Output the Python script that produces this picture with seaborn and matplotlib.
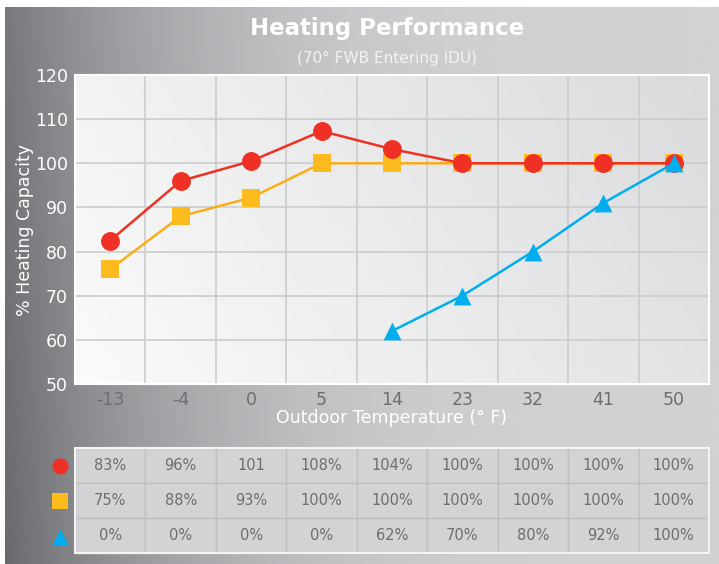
import numpy as np
import pandas as pd
import matplotlib
matplotlib.use('Agg')
import matplotlib.pyplot as plt
import seaborn as sns

# values
temps = ['-13', '-4', '0', '5', '14', '23', '32', '41', '50']
red_vals = [82.5, 96, 100.5, 107.3, 103.2, 100, 100, 100, 100]
yellow_vals = [76, 88, 92.2, 100, 100, 100, 100, 100, 100]
blue_temps = ['14', '23', '32', '41', '50']
blue_vals = [62, 70, 80, 91, 100]
red_table = ['83%', '96%', '101', '108%', '104%', '100%', '100%', '100%', '100%']
yellow_table = ['75%', '88%', '93%', '100%', '100%', '100%', '100%', '100%', '100%']
blue_table = ['0%', '0%', '0%', '0%', '62%', '70%', '80%', '92%', '100%']

RED = '#ee3124'
YEL = '#fdbb1e'
YEL_LINE = '#f9ad1a'
BLUE = '#00aeef'
GRAYTXT = '#6d6e71'

sns.set_style('white')
plt.rcParams['font.family'] = ['DejaVu Sans']

W, H = 719, 564
fig = plt.figure(figsize=(W / 100, H / 100), dpi=100)
fig.patch.set_facecolor('white')

# background gradient panel
bg = fig.add_axes([5 / W, 0, 1 - 5 / W, 1 - 7 / H])
xx = np.linspace(0, 1, 400)
yy = np.linspace(0, 1, 200)
X, Y = np.meshgrid(xx, yy)
t = np.clip(X + 0.05 * Y, 0, 1)
shade = (1 - t) ** 3
img = np.zeros((200, 400, 3))
dark = np.array([105, 106, 109]) / 255
light = np.array([209, 210, 212]) / 255
for c in range(3):
    img[:, :, c] = light[c] - (light[c] - dark[c]) * shade
bg.imshow(img, aspect='auto', extent=[0, 1, 0, 1], origin='lower')
bg.set_axis_off()

fig.text(387 / W, 1 - 29 / H, 'Heating Performance', color='white',
         fontsize=16.5, fontweight='bold', ha='center', va='center')
fig.text(387 / W, 1 - 58 / H, '(70° FWB Entering IDU)', color='#f3f3f3',
         fontsize=11, ha='center', va='center')

# main axes
ax = fig.add_axes([75 / W, 1 - 384 / H, 634 / W, 309 / H])
# plot face gradient
gx, gy = np.meshgrid(np.linspace(0, 1, 300), np.linspace(0, 1, 150))
g = np.clip(0.75 * gx + 0.25 * gy, 0, 1)
face = np.zeros((150, 300, 3))
lo = np.array([251, 251, 251]) / 255
hi = np.array([218, 219, 221]) / 255
for c in range(3):
    face[:, :, c] = lo[c] + (hi[c] - lo[c]) * g
ax.imshow(face, aspect='auto', extent=[-0.5, 8.5, 50, 120], origin='lower', zorder=0)

idx = {t_: i for i, t_ in enumerate(temps)}
df_r = pd.DataFrame({'x': [idx[t_] for t_ in temps], 'y': red_vals})
df_y = pd.DataFrame({'x': [idx[t_] for t_ in temps], 'y': yellow_vals})
df_b = pd.DataFrame({'x': [idx[t_] for t_ in blue_temps], 'y': blue_vals})

sns.lineplot(data=df_y, x='x', y='y', ax=ax, color=YEL_LINE, lw=1.8, zorder=3)
ax.scatter(df_y['x'], df_y['y'], marker='s', s=175, color=YEL, zorder=4, linewidths=0)
sns.lineplot(data=df_r, x='x', y='y', ax=ax, color=RED, lw=1.8, zorder=5)
ax.scatter(df_r['x'], df_r['y'], marker='o', s=185, color=RED, zorder=6, linewidths=0)
sns.lineplot(data=df_b, x='x', y='y', ax=ax, color=BLUE, lw=1.8, zorder=7)
ax.scatter(df_b['x'], df_b['y'], marker='^', s=165, color=BLUE, zorder=8, linewidths=0)

ax.set_xlim(-0.5, 8.5)
ax.set_ylim(50, 120)
ax.set_yticks(range(50, 121, 10))
ax.set_xticks(range(len(temps)))
ax.set_xticklabels(temps)
ax.grid(False)
for xv in np.arange(0.5, 8.5, 1):
    ax.axvline(xv, color='#cbcccd', lw=1.2, zorder=1)
for yv in range(60, 120, 10):
    ax.axhline(yv, color='#cbcccd', lw=1.2, zorder=1)
ax.tick_params(axis='y', colors='white', labelsize=12.5, length=0, pad=5)
ax.tick_params(axis='x', colors=GRAYTXT, labelsize=12.5, length=0, pad=5)
ax.set_xlabel('Outdoor Temperature (° F)', color='white', fontsize=12.5, labelpad=0)
ax.set_ylabel('% Heating Capacity', color='white', fontsize=12.5, labelpad=0.5)
for s in ax.spines.values():
    s.set_color('white')
    s.set_linewidth(1.5)

# table
ax_t = fig.add_axes([75 / W, 1 - 553 / H, 634 / W, 105 / H])
ax_t.set_xlim(0, 9)
ax_t.set_ylim(0, 3)
ax_t.set_axis_off()
tbl = ax_t.table(cellText=[red_table, yellow_table, blue_table], bbox=[0, 0, 1, 1],
                 cellLoc='center')
tbl.auto_set_font_size(False)
tbl.set_fontsize(10.5)
for (r, c), cell in tbl.get_celld().items():
    cell.set_facecolor('#d2d3d5')
    cell.set_edgecolor('#bfc0c2')
    cell.set_linewidth(1.0)
    cell.get_text().set_color(GRAYTXT)
ax_t.add_patch(plt.Rectangle((0, 0), 9, 3, fill=False, edgecolor='#f4f4f4', lw=1.5,
                             zorder=10, clip_on=False))
ax_t.scatter([-0.21], [2.5], marker='o', s=135, color=RED, clip_on=False, linewidths=0)
ax_t.scatter([-0.21], [1.5], marker='s', s=130, color=YEL, clip_on=False, linewidths=0)
ax_t.scatter([-0.21], [0.47], marker='^', s=135, color=BLUE, clip_on=False, linewidths=0)

fig.savefig('out.png', dpi=100)
